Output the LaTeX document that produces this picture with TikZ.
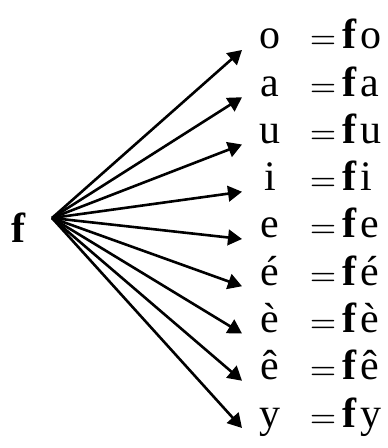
\documentclass[tikz,border=0pt]{standalone}
\usepackage{fontspec}
\setmainfont{Liberation Serif}
\usepackage{tikz}
\usetikzlibrary{arrows.meta}

\begin{document}
\begin{tikzpicture}[
  x=0.25pt, y=-0.25pt,
  src/.style={anchor=base, inner sep=0pt, font=\fontsize{10.5}{13}\selectfont\bfseries},
  lhs/.style={anchor=base, inner sep=0pt, font=\fontsize{10.5}{13}\selectfont},
  eqsign/.style={anchor=base west, inner sep=0pt, font=\fontsize{8.5}{10}\selectfont},
  rhs/.style={anchor=base west, inner sep=0pt, font=\fontsize{10.5}{13}\selectfont},
  arr/.style={-{Triangle[length=3.5pt, width=3.9pt]}, line width=0.65pt}
]
  \useasboundingbox (0,0) rectangle (387,448);
  \node[src] (f) at (18.5,243) {f};
  \coordinate (hub) at (52,218);
  \foreach \v [count=\i from 0] in {o,a,u,i,e,é,è,ê,y} {
    \pgfmathsetmacro{\y}{49+47.25*\i}
    \coordinate (t\i) at (242,\y+1);
    \node[lhs] (l\i) at (270,\y) {\v};
    \node[eqsign] (q\i) at (309,\y) {$=$};
    \node[rhs] (r\i) at (342,\y) {\textbf{f}\kern0.7pt\v};
    \draw[arr] (hub) -- (t\i);
  }
\end{tikzpicture}
\end{document}
